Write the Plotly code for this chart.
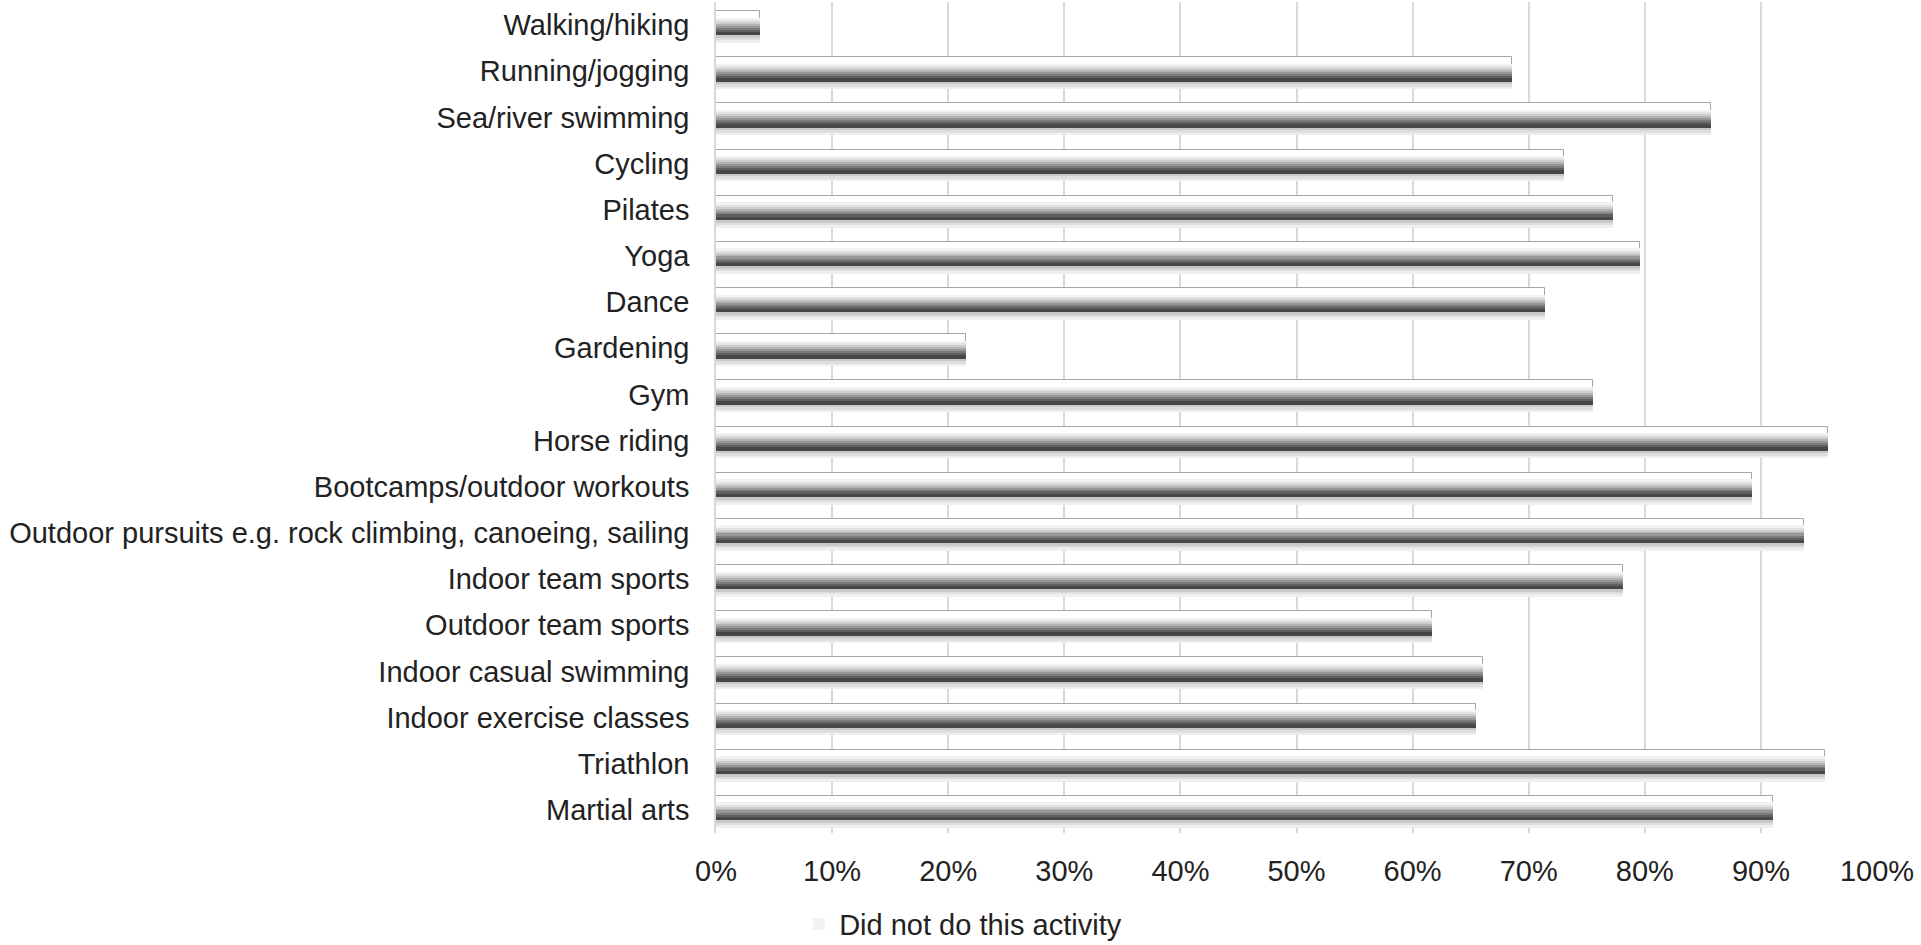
import plotly.graph_objects as go

categories = [
    "Walking/hiking", "Running/jogging", "Sea/river swimming", "Cycling",
    "Pilates", "Yoga", "Dance", "Gardening", "Gym", "Horse riding",
    "Bootcamps/outdoor workouts",
    "Outdoor pursuits e.g. rock climbing, canoeing, sailing",
    "Indoor team sports", "Outdoor team sports", "Indoor casual swimming",
    "Indoor exercise classes", "Triathlon", "Martial arts",
]
did_not_do = [3.8, 68.6, 85.7, 73.0, 77.3, 79.6, 71.4, 21.5, 75.5, 95.8,
              89.2, 93.7, 78.1, 61.7, 66.1, 65.5, 95.5, 91.0]
series_name = "Did not do this activity"
x_ticks = list(range(0, 101, 10))

# ---- styling (cylinder-like shading built from stacked stripes) ----
CAT_PX = 46.2          # pixels per category row
TOP = -0.305           # bar top relative to category centre (category units)
BAR_PX = 24.5
stripes = [  # (start px from top, end px, colour)
    (24.5, 27.0, "#c8c8c8"),
    (27.0, 29.5, "#dedede"),
    (29.5, 32.0, "#efefef"),
    (6.5, 9.0, "#f2f2f2"),
    (9.0, 11.0, "#e2e2e2"),
    (11.0, 13.0, "#cdcdcd"),
    (13.0, 15.0, "#b3b3b3"),
    (15.0, 17.0, "#979797"),
    (17.0, 19.0, "#7a7a7a"),
    (19.0, 21.0, "#606060"),
    (21.0, 24.5, "#474747"),
]

fig = go.Figure()

# base white bar with thin grey outline
fig.add_trace(go.Bar(
    y=categories, x=did_not_do, orientation="h",
    width=BAR_PX / CAT_PX, offset=TOP,
    marker=dict(color="#ffffff", line=dict(color="#a6a6a6", width=1)),
    showlegend=False, hoverinfo="skip",
))

for s, e, col in stripes:
    fig.add_trace(go.Bar(
        y=categories, x=did_not_do, orientation="h",
        width=(e - s) / CAT_PX, offset=TOP + s / CAT_PX,
        marker=dict(color=col, line=dict(width=0)),
        name=series_name,
        showlegend=(col == "#f2f2f2"),
        hovertemplate="%{y}: %{x}%<extra></extra>",
    ))

font_family = "Liberation Sans, Arial, sans-serif"

fig.update_layout(
    width=1921, height=945,
    barmode="overlay",
    plot_bgcolor="#ffffff", paper_bgcolor="#ffffff",
    margin=dict(l=716, r=44, t=2, b=112),
    font=dict(family=font_family, size=29, color="#222222"),
    bargap=0,
    legend=dict(
        orientation="h", xref="container", yref="container",
        x=0.416, xanchor="left", y=0.022, yanchor="middle",
        font=dict(size=29, color="#222222"),
        bgcolor="rgba(0,0,0,0)",
    ),
    xaxis=dict(
        range=[0, 100], tickvals=x_ticks, ticktext=[f"{v}%" for v in x_ticks],
        showgrid=True, gridcolor="#d9d9d9", gridwidth=1.5,
        zeroline=False, showline=False,
        ticks="", ticklabelstandoff=18,
        tickfont=dict(size=29, color="#222222"),
    ),
    yaxis=dict(
        type="category", autorange="reversed",
        showgrid=False, zeroline=False,
        showline=True, linecolor="#d9d9d9", linewidth=1.5,
        ticks="", ticklabelstandoff=19,
        tickfont=dict(size=29, color="#222222"),
    ),
)

fig.write_html("out.html", config={"displayModeBar": False},
               post_script="document.body.style.margin='0px';")
